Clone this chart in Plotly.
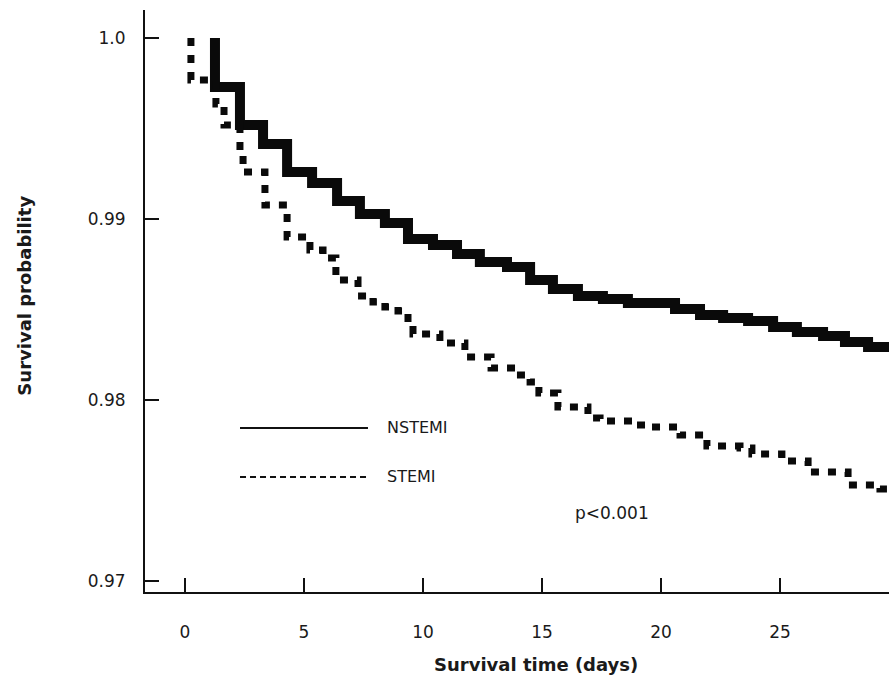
import plotly.graph_objects as go

# Kaplan-Meier step data (days, survival probability)
nstemi_days = [1.26, 1.26, 2.31, 3.28, 4.29, 5.34, 6.39, 7.35, 8.40, 9.37,
               10.42, 11.43, 12.39, 13.53, 14.50, 15.46, 16.51, 17.56, 18.61, 20.59,
               21.64, 22.61, 23.66, 24.71, 25.71, 26.81, 27.73, 28.70, 30.0]
nstemi_surv = [1.0, 0.99729, 0.99519, 0.99414, 0.99260, 0.99199, 0.99099, 0.99028, 0.98978, 0.98890,
               0.98856, 0.98807, 0.98762, 0.98735, 0.98663, 0.98613, 0.98575, 0.98558, 0.98536, 0.98503,
               0.98470, 0.98453, 0.98436, 0.98403, 0.98376, 0.98354, 0.98320, 0.98293, 0.98293]

stemi_days = [0.25, 0.25, 1.30, 1.64, 2.31, 2.44, 3.36, 4.29, 5.25, 5.80,
              6.34, 7.27, 7.90, 8.40, 8.95, 9.37, 9.58, 10.71, 11.76, 12.86,
              13.87, 14.50, 14.87, 15.67, 16.93, 17.44, 18.87, 19.54, 20.80, 21.93,
              23.32, 23.82, 25.08, 26.18, 27.86, 29.20, 30.0]
stemi_surv = [1.0, 0.99768, 0.99635, 0.99519, 0.99354, 0.99260, 0.99077, 0.98901, 0.98829, 0.98785,
              0.98663, 0.98575, 0.98541, 0.98514, 0.98492, 0.98431, 0.98365, 0.98315, 0.98238, 0.98177,
              0.98138, 0.98099, 0.98039, 0.97961, 0.97901, 0.97884, 0.97862, 0.97851, 0.97807, 0.97746,
              0.97735, 0.97702, 0.97663, 0.97602, 0.97530, 0.97508, 0.97508]

x_ticks = [0, 5, 10, 15, 20, 25, 30]
y_ticks = [0.97, 0.98, 0.99, 1.0]
y_tick_text = ["0.97", "0.98", "0.99", "1.0"]

series_names = ["NSTEMI", "STEMI"]
p_text = "p<0.001"
x_title = "Survival time (days)"
y_title = "Survival probability"

FONT = "DejaVu Sans"
TXT = "#1a1a1a"

fig = go.Figure()
fig.add_trace(go.Scatter(x=nstemi_days, y=nstemi_surv, mode="lines", line_shape="hv",
                         line=dict(color="#0a0a0a", width=10), name=series_names[0],
                         showlegend=False))
fig.add_trace(go.Scatter(x=stemi_days, y=stemi_surv, mode="lines", line_shape="hv",
                         line=dict(color="#0a0a0a", width=7, dash="8px,9px"), name=series_names[1],
                         showlegend=False))

# legend drawn manually (thin sample lines)
fig.add_shape(type="line", xref="paper", yref="paper", x0=0.1277, x1=0.2997, y0=0.2818, y1=0.2818,
              line=dict(color="#111", width=2))
fig.add_shape(type="line", xref="paper", yref="paper", x0=0.1277, x1=0.2997, y0=0.1976, y1=0.1976,
              line=dict(color="#111", width=2, dash="6px,4px"))
fig.add_annotation(xref="paper", yref="paper", x=0.3226, y=0.2818, text=series_names[0], showarrow=False,
                   xanchor="left", yanchor="middle", font=dict(family=FONT, size=16, color=TXT))
fig.add_annotation(xref="paper", yref="paper", x=0.3226, y=0.1976, text=series_names[1], showarrow=False,
                   xanchor="left", yanchor="middle", font=dict(family=FONT, size=16, color=TXT))
fig.add_annotation(xref="paper", yref="paper", x=0.6277, y=0.1357, text=p_text, showarrow=False,
                   xanchor="center", yanchor="middle", font=dict(family=FONT, size=17, color=TXT))

# axis titles
fig.add_annotation(xref="paper", yref="paper", x=0.525, y=-0.125, text="<b>" + x_title + "</b>",
                   showarrow=False, xanchor="center", yanchor="middle",
                   font=dict(family=FONT, size=18, color=TXT))
fig.add_annotation(xref="paper", yref="paper", x=-0.162, y=0.51, text="<b>" + y_title + "</b>",
                   showarrow=False, textangle=-90, xanchor="center", yanchor="middle",
                   font=dict(family=FONT, size=18, color=TXT))

fig.update_layout(
    width=889, height=690,
    margin=dict(l=145, r=0, t=10, b=98),
    paper_bgcolor="white", plot_bgcolor="white",
    xaxis=dict(range=[-1.68, 29.58], tickvals=x_ticks, ticks="inside", ticklen=14, tickwidth=2,
               tickcolor="#111", showline=True, linecolor="#111", linewidth=2, showgrid=False,
               zeroline=False, ticklabelstandoff=24,
               tickfont=dict(family=FONT, size=17, color=TXT)),
    yaxis=dict(range=[0.96939, 1.00155], tickvals=y_ticks, ticktext=y_tick_text, ticks="inside",
               ticklen=14, tickwidth=2, tickcolor="#111", showline=True, linecolor="#111",
               linewidth=2, showgrid=False, zeroline=False, ticklabelstandoff=14,
               tickfont=dict(family=FONT, size=17, color=TXT)),
)

fig.write_html("out.html")
